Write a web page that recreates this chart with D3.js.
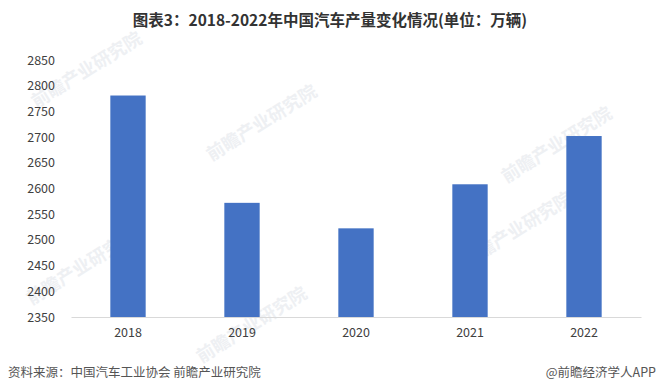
<!DOCTYPE html>
<html>
<head>
<meta charset="utf-8">
<script src="https://cdn.jsdelivr.net/npm/d3@7"></script>
<style>
  body { margin: 0; background: #fff; }
  svg { display: block; }
</style>
</head>
<body>
<svg id="chart" width="660" height="389"></svg>
<script>
// données : production automobile en Chine (万辆)
var years = ["2018", "2019", "2020", "2021", "2022"];
var production = [2780.9, 2572.1, 2522.5, 2608.2, 2702.1];
var yTicks = [2350, 2400, 2450, 2500, 2550, 2600, 2650, 2700, 2750, 2800, 2850];

var titre = "图表3：2018-2022年中国汽车产量变化情况(单位：万辆)";
var source = "资料来源：中国汽车工业协会 前瞻产业研究院";
var credit = "@前瞻经济学人APP";

var width = 660, height = 389;
var margin = { top: 60, right: 19, bottom: 72, left: 71 };
var font = "'Noto Sans CJK SC', 'Noto Sans', sans-serif";

var svg = d3.select("#chart");

// filigranes légers
var marks = [[90, 75], [265, 128], [560, 150], [85, 272], [520, 235], [255, 330]];
svg.append("g")
  .selectAll("text")
  .data(marks)
  .join("text")
  .attr("transform", d => `translate(${d[0]},${d[1]}) rotate(-32)`)
  .attr("text-anchor", "middle")
  .attr("font-family", font)
  .attr("font-size", 18)
  .attr("font-weight", "bold")
  .attr("fill", "#eef0f3")
  .text("前瞻产业研究院");

var x = d3.scaleBand()
  .domain(years)
  .range([margin.left, width - margin.right])
  .paddingInner(0.69)
  .paddingOuter(0.345);

var y = d3.scaleLinear()
  .domain([2350, 2850])
  .range([height - margin.bottom, margin.top]);

// barres
svg.append("g")
  .selectAll("rect")
  .data(production)
  .join("rect")
  .attr("x", (d, i) => x(years[i]))
  .attr("y", d => y(d))
  .attr("width", x.bandwidth())
  .attr("height", d => y(2350) - y(d))
  .attr("fill", "#4472c4");

// axe y (pas de ligne)
var yAxis = svg.append("g")
  .attr("transform", `translate(${margin.left - 16},0)`)
  .call(d3.axisLeft(y).tickValues(yTicks).tickFormat(d3.format("d")).tickSize(0).tickPadding(0));
yAxis.select(".domain").remove();
yAxis.selectAll("text")
  .attr("font-family", font)
  .attr("font-size", 12.5)
  .attr("fill", "#404040");

// axe x
var xAxis = svg.append("g")
  .attr("transform", `translate(0,${y(2350)})`)
  .call(d3.axisBottom(x).tickSize(0).tickPadding(11));
xAxis.select(".domain").attr("stroke", "#d9d9d9");
xAxis.selectAll("text")
  .attr("font-family", font)
  .attr("font-size", 12.5)
  .attr("fill", "#404040");

// titre
svg.append("text")
  .attr("x", 330)
  .attr("y", 26)
  .attr("text-anchor", "middle")
  .attr("font-family", font)
  .attr("font-size", 15.5)
  .attr("font-weight", "bold")
  .attr("fill", "#333")
  .text(titre);

// source
svg.append("text")
  .attr("x", 8)
  .attr("y", 377)
  .attr("font-family", font)
  .attr("font-size", 12.5)
  .attr("fill", "#555")
  .text(source);

svg.append("text")
  .attr("x", 656)
  .attr("y", 377)
  .attr("text-anchor", "end")
  .attr("font-family", font)
  .attr("font-size", 12.5)
  .attr("fill", "#555")
  .text(credit);
</script>
</body>
</html>
